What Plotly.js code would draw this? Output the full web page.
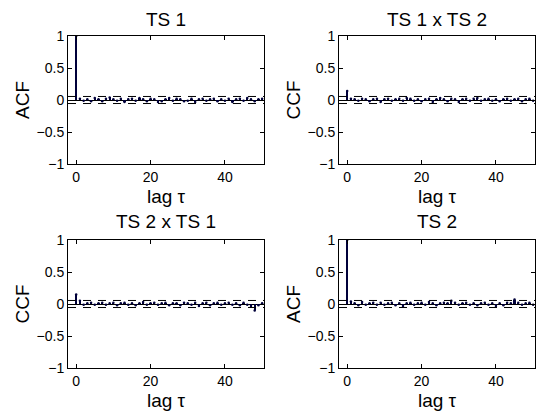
<!DOCTYPE html>
<html>
<head>
<meta charset="utf-8">
<script src="https://cdn.plot.ly/plotly-3.0.1.min.js"></script>
<style>html,body{margin:0;padding:0;background:#fff;}#chart{width:536px;height:412px;}</style>
</head>
<body>
<div id="chart"></div>
<script>
const lags = [0,1,2,3,4,5,6,7,8,9,10,11,12,13,14,15,16,17,18,19,20,21,22,23,24,25,26,27,28,29,30,31,32,33,34,35,36,37,38,39,40,41,42,43,44,45,46,47,48,49,50];

const acfTS1 = [1.00,
  0.02,-0.01,0.01,-0.02,0.03,0.01,-0.02,0.02,0.04,0.01,
  -0.01,0.02,-0.03,0.01,0.02,-0.01,0.03,0.01,-0.02,0.02,
  0.01,-0.03,-0.02,0.01,0.03,-0.01,0.02,0.01,-0.02,-0.01,
  0.02,-0.03,0.01,0.02,-0.01,0.01,0.02,-0.02,0.01,-0.01,
  0.02,-0.03,0.01,0.02,-0.01,0.03,0.01,-0.02,0.01,0.02];

const ccfTS1xTS2 = [0.14,
  0.02,0.01,-0.01,0.02,0.01,-0.02,0.01,0.02,-0.03,0.01,
  0.02,-0.01,0.01,0.02,-0.01,0.03,0.02,-0.01,0.01,-0.02,
  0.01,0.02,-0.03,0.01,0.03,0.01,-0.02,0.02,0.01,-0.03,
  0.01,0.02,-0.01,0.02,0.03,-0.01,0.01,0.02,-0.01,0.01,
  -0.02,0.01,0.02,-0.01,0.01,0.02,-0.02,0.01,0.02,-0.01];

const ccfTS2xTS1 = [0.15,
  0.05,-0.01,0.01,0.02,-0.01,0.01,0.02,-0.01,0.01,0.02,
  -0.02,0.01,0.02,-0.01,0.01,-0.02,0.01,0.03,-0.01,0.01,
  0.02,-0.01,0.01,0.02,-0.02,0.01,0.01,-0.02,0.02,0.01,
  -0.01,0.02,-0.03,0.01,0.02,-0.02,0.01,0.02,-0.01,0.01,
  0.02,-0.01,0.01,-0.02,0.02,-0.01,-0.03,-0.10,-0.02,0.01];

const acfTS2 = [1.00,
  0.04,0.01,-0.02,0.03,-0.01,0.01,0.02,-0.01,0.02,-0.01,
  0.01,0.02,-0.02,0.01,-0.03,0.01,0.02,-0.01,0.01,0.02,
  -0.01,0.03,0.01,-0.02,0.01,0.02,0.01,0.05,0.02,-0.01,
  0.01,0.02,-0.01,0.01,-0.02,0.01,0.02,-0.01,0.01,-0.03,
  0.01,-0.02,0.02,0.01,0.07,0.02,-0.01,0.01,0.02,-0.01];

const bound = [0.055, -0.055];

const titles = ['TS 1', 'TS 1 x TS 2', 'TS 2 x TS 1', 'TS 2'];
const yLabels = ['ACF', 'CCF', 'CCF', 'ACF'];
const xLabel = 'lag \u03c4';
const series = [acfTS1, ccfTS1xTS2, ccfTS2xTS1, acfTS2];
const yTickVals = [-1, -0.5, 0, 0.5, 1];
const yTickText = ['\u22121', '\u22120.5', '0', '0.5', '1'];
const xTickVals = [0, 20, 40];

const W = 536, H = 412;
const boxes = [
  {l: 68, r: 264, t: 36, b: 164, tt: 4},
  {l: 339, r: 535, t: 36, b: 164, tt: 4},
  {l: 68, r: 264, t: 240, b: 368, tt: 6},
  {l: 339, r: 535, t: 240, b: 368, tt: 6}
];

const FONT = '"Liberation Sans", Arial, Helvetica, sans-serif';
const stemColor = '#00003a';
const traces = [];
const layout = {
  width: W, height: H,
  margin: {l: 0, r: 0, t: 0, b: 0},
  paper_bgcolor: '#ffffff', plot_bgcolor: '#ffffff',
  showlegend: false,
  font: {family: FONT, color: '#000', size: 13},
  bargap: 0,
  annotations: [], shapes: []
};

series.forEach((vals, i) => {
  const n = i + 1;
  const xa = 'x' + (n === 1 ? '' : n), ya = 'y' + (n === 1 ? '' : n);
  const b = boxes[i];
  traces.push({
    type: 'bar', x: lags, y: vals, xaxis: xa, yaxis: ya,
    width: 0.6, marker: {color: stemColor, line: {width: 0}},
    hoverinfo: 'x+y'
  });
  traces.push({
    type: 'scatter', mode: 'markers', x: lags, y: vals, xaxis: xa, yaxis: ya,
    marker: {color: stemColor, size: 2.5}, hoverinfo: 'skip'
  });
  const axX = {
    domain: [b.l / W, b.r / W], range: [-2.2, 50.5], anchor: ya,
    tickvals: xTickVals, ticks: 'inside', ticklen: 4, tickcolor: '#000',
    showline: true, linecolor: '#000', linewidth: 1, mirror: 'ticks',
    showgrid: false, zeroline: false,
    tickfont: {size: 14, family: FONT},
    title: {text: xLabel, font: {size: 19, family: FONT}, standoff: 5}
  };
  const axY = {
    domain: [1 - b.b / H, 1 - b.t / H], range: [-1, 1], anchor: xa,
    tickvals: yTickVals, ticktext: yTickText, ticks: 'inside', ticklen: 4, tickcolor: '#000',
    showline: true, linecolor: '#000', linewidth: 1, mirror: 'ticks',
    showgrid: false, zeroline: true, zerolinecolor: '#000', zerolinewidth: 1,
    tickfont: {size: 14, family: FONT},
    title: {text: yLabels[i], font: {size: 19, family: FONT}, standoff: 1}
  };
  layout['xaxis' + (n === 1 ? '' : n)] = axX;
  layout['yaxis' + (n === 1 ? '' : n)] = axY;
  bound.forEach(bv => {
    layout.shapes.push({
      type: 'line', xref: xa + ' domain', yref: ya,
      x0: 0, x1: 1, y0: bv, y1: bv,
      line: {color: '#000', width: 1, dash: '8px,7px'}
    });
  });
  layout.annotations.push({
    text: titles[i], xref: 'paper', yref: 'paper',
    x: (b.l + b.r) / 2 / W, y: 1 - (b.t - b.tt) / H,
    xanchor: 'center', yanchor: 'bottom', showarrow: false,
    font: {size: 19, family: FONT, color: '#000'}
  });
});

Plotly.newPlot('chart', traces, layout, {staticPlot: true, displayModeBar: false});
</script>
</body>
</html>
